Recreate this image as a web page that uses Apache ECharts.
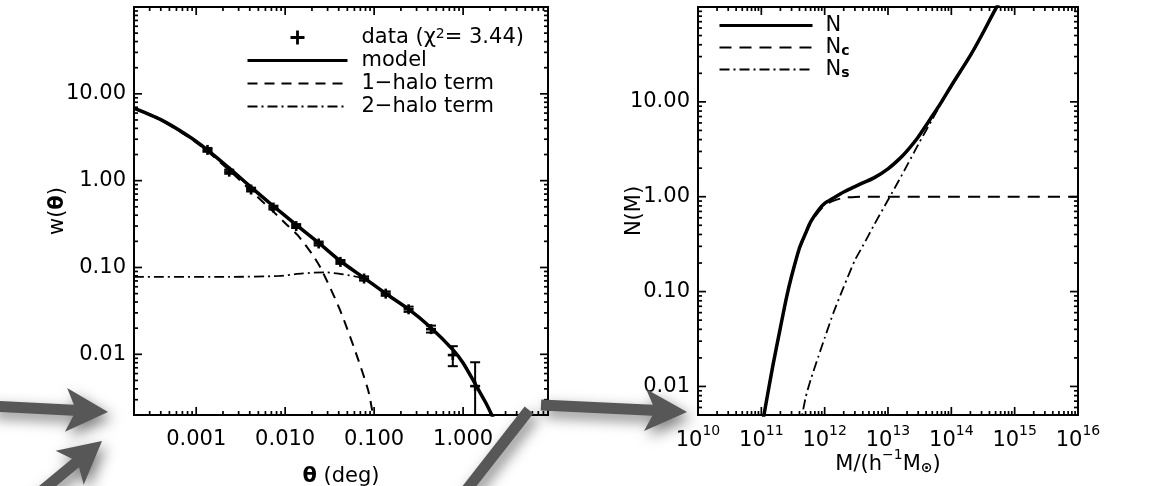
<!DOCTYPE html>
<html>
<head>
<meta charset="utf-8">
<script src="https://cdn.jsdelivr.net/npm/echarts@6/dist/echarts.min.js"></script>
<style>
  html, body { margin: 0; padding: 0; background: #fff; }
  #chart { width: 1171px; height: 486px; }
</style>
</head>
<body>
<div id="chart"></div>
<script>
// ---- left panel: w(theta) ----
var dataTheta = [0.00134, 0.00235, 0.00414, 0.00738, 0.0133, 0.0238, 0.0418, 0.0771, 0.135, 0.244, 0.436, 0.766, 1.365];
var dataW     = [2.26, 1.27, 0.79, 0.49, 0.30, 0.189, 0.116, 0.0746, 0.050, 0.033, 0.0195, 0.0098, 0.0043];
var dataWLow  = [2.15, 1.20, 0.75, 0.465, 0.285, 0.179, 0.110, 0.0705, 0.0472, 0.0308, 0.0178, 0.0073, 0.0005];
var dataWHigh = [2.38, 1.34, 0.83, 0.515, 0.316, 0.199, 0.122, 0.0790, 0.0530, 0.0354, 0.0214, 0.0124, 0.0081];

var modelTheta = [0.0002, 0.0004, 0.0008, 0.0013, 0.0024, 0.0041, 0.0074, 0.013, 0.024, 0.042, 0.077, 0.135, 0.244, 0.42, 0.78, 1.0, 1.36, 1.78, 2.1, 2.5];
var modelW     = [6.84, 5.04, 3.31, 2.31, 1.37, 0.847, 0.507, 0.316, 0.191, 0.118, 0.0759, 0.0501, 0.0331, 0.0209, 0.0111, 0.00794, 0.00461, 0.00282, 0.00200, 0.00135];

var halo1Theta = [0.0002, 0.0004, 0.0008, 0.0013, 0.0024, 0.0041, 0.0074, 0.0105, 0.0139, 0.0205, 0.0255, 0.041, 0.0632, 0.0857, 0.0948, 0.1];
var halo1W     = [6.76, 4.96, 3.23, 2.23, 1.29, 0.768, 0.437, 0.309, 0.234, 0.138, 0.0955, 0.0331, 0.0100, 0.00385, 0.00229, 0.00158];

var halo2Theta = [0.0002, 0.0024, 0.0086, 0.0158, 0.0278, 0.0447, 0.075, 0.135, 0.244, 0.42, 0.78, 1.0, 1.36, 1.78, 2.1, 2.5];
var halo2W     = [0.078, 0.078, 0.080, 0.0855, 0.088, 0.0834, 0.0745, 0.0498, 0.033, 0.0208, 0.0110, 0.0079, 0.0046, 0.0028, 0.0020, 0.00134];

// ---- right panel: N(M) ----
var massGrid = [1.0e11, 1.1e11, 1.5e11, 2e11, 2.5e11, 3e11, 4e11, 5e11, 6e11, 8e11, 1e12, 1.4e12, 2e12, 3e12, 4e12, 6e12, 1e13, 1.5e13, 2e13, 3e13, 5e13, 7e13, 1e14, 2e14, 3e14, 5e14, 7e14, 1e15, 1e16];
var nTotal   = [0.00355, 0.0050, 0.0158, 0.0417, 0.0871, 0.145, 0.288, 0.412, 0.543, 0.724, 0.851, 0.973, 1.12, 1.28, 1.40, 1.58, 1.97, 2.49, 3.05, 4.27, 7.08, 10.0, 14.8, 30.9, 50.1, 95.5, 141, 214, null];
var nCentral = [0.00355, 0.0050, 0.0158, 0.0415, 0.0865, 0.143, 0.283, 0.403, 0.525, 0.69, 0.815, 0.91, 0.975, 0.992, 0.998, 1.0, 1.0, 1.0, 1.0, 1.0, 1.0, 1.0, 1.0, 1.0, 1.0, 1.0, 1.0, 1.0, 1.0];
var nSat     = [null, null, null, null, null, null, 0.00355, 0.0076, 0.0117, 0.0209, 0.0324, 0.0617, 0.112, 0.214, 0.302, 0.501, 0.923, 1.50, 2.14, 3.55, 6.53, 9.77, 14.6, 30.2, 49.0, 94.4, 138, 209, null];

// axis ranges and tick decades
var thetaRange = [0.0002, 9];
var wRange = [0.002, 100];
var massRange = [1e10, 1e16];
var nRange = [0.005, 100];
var thetaDecades = [0.0001, 0.001, 0.01, 0.1, 1];
var wDecades = [0.001, 0.01, 0.1, 1, 10];
var massDecades = [1e10, 1e11, 1e12, 1e13, 1e14, 1e15];
var nDecades = [0.001, 0.01, 0.1, 1, 10];

var FONT = 'DejaVu Sans';
var FS = 21;
var MAJOR = 8, MINOR = 4;

function logTicks(decades, range) {
  var out = [];
  decades.forEach(function (d) {
    for (var k = 1; k <= 9; k++) {
      var v = d * k;
      if (v > range[0] * 1.0001 && v < range[1] * 0.9999) out.push([v, k === 1 ? MAJOR : MINOR]);
    }
  });
  return out;
}

function pairs(xs, ys) {
  return xs.map(function (x, i) { return [x, ys[i]]; });
}

function tickSeries(axisDim, ticks, gridIdx, ref) {
  return {
    type: 'custom', xAxisIndex: gridIdx, yAxisIndex: gridIdx, silent: true, z: 5,
    data: ticks.map(function (t) { return axisDim === 'x' ? [t[0], ref, t[1]] : [ref, t[0], t[1]]; }),
    encode: { x: 0, y: 1 },
    renderItem: function (params, api) {
      var cs = params.coordSys;
      var p = api.coord([api.value(0), api.value(1)]);
      var len = api.value(2);
      var st = { stroke: '#000', lineWidth: 1.7 };
      if (axisDim === 'x') {
        var yb = cs.y + cs.height;
        return { type: 'group', children: [
          { type: 'line', shape: { x1: p[0], y1: yb, x2: p[0], y2: yb - len }, style: st },
          { type: 'line', shape: { x1: p[0], y1: cs.y, x2: p[0], y2: cs.y + len }, style: st }
        ] };
      }
      var xr = cs.x + cs.width;
      return { type: 'group', children: [
        { type: 'line', shape: { x1: cs.x, y1: p[1], x2: cs.x + len, y2: p[1] }, style: st },
        { type: 'line', shape: { x1: xr, y1: p[1], x2: xr - len, y2: p[1] }, style: st }
      ] };
    }
  };
}

function arrowPoly(x0, y0, x1, y1, w, L, H) {
  var dx = x1 - x0, dy = y1 - y0, len = Math.sqrt(dx * dx + dy * dy);
  var ux = dx / len, uy = dy / len, nx = -uy, ny = ux;
  var bx = x1 - ux * L, by = y1 - uy * L;
  var jx = x1 - ux * L * 0.82, jy = y1 - uy * L * 0.82;
  return [
    [x0 + nx * w / 2, y0 + ny * w / 2],
    [jx + nx * w / 2, jy + ny * w / 2],
    [bx + nx * H, by + ny * H],
    [x1, y1],
    [bx - nx * H, by - ny * H],
    [jx - nx * w / 2, jy - ny * w / 2],
    [x0 - nx * w / 2, y0 - ny * w / 2]
  ];
}

var arrowStyle = { fill: '#575757', shadowBlur: 14, shadowColor: 'rgba(0,0,0,0.5)', shadowOffsetX: 4, shadowOffsetY: 6 };

var supRich = {
  b: { fontSize: FS, fontFamily: FONT, color: '#000', padding: [6, 0, 0, 0], verticalAlign: 'bottom' },
  sup: { fontSize: 14, fontFamily: FONT, color: '#000', verticalAlign: 'top' },
  sub: { fontSize: 14, fontFamily: FONT, color: '#000', verticalAlign: 'bottom', fontWeight: 'bold' },
  th: { fontSize: FS, fontFamily: FONT, color: '#000', fontWeight: 'bold' }
};

var chart = echarts.init(document.getElementById('chart'), null, { renderer: 'canvas' });

var axisLabelBase = { color: '#000', fontSize: FS, fontFamily: FONT };
var nameStyle = { fontSize: FS, fontFamily: FONT, color: '#000', rich: supRich };
var noAxisDeco = { axisLine: { show: false }, axisTick: { show: false }, splitLine: { show: false } };

var option = {
  backgroundColor: '#fff',
  animation: false,
  grid: [
    { left: 134, top: 7, width: 414, height: 408, show: true, borderColor: '#000', borderWidth: 2, backgroundColor: 'transparent', outerBoundsMode: 'none', containLabel: false },
    { left: 698, top: 7, width: 380, height: 408, show: true, borderColor: '#000', borderWidth: 2, backgroundColor: 'transparent', outerBoundsMode: 'none', containLabel: false }
  ],
  xAxis: [
    Object.assign({
      type: 'log', gridIndex: 0, min: thetaRange[0], max: thetaRange[1],
      axisLabel: Object.assign({}, axisLabelBase, { margin: 14, showMinLabel: false, showMaxLabel: false,
        formatter: function (v) { return v.toFixed(3); } }),
      name: '{th|θ} (deg)', nameLocation: 'middle', nameGap: 51, nameMoveOverlap: false, nameTextStyle: nameStyle
    }, noAxisDeco),
    Object.assign({
      type: 'log', gridIndex: 1, min: massRange[0], max: massRange[1],
      axisLabel: Object.assign({}, axisLabelBase, { margin: 9, showMinLabel: true, showMaxLabel: true, rich: supRich,
        formatter: function (v) { return '{b|10}{sup|' + Math.round(Math.log10(v)) + '}'; } }),
      name: '{b|M/(h}{sup|−1}{b|M}{sub|⊙}{b|)}', nameLocation: 'middle', nameGap: 33, nameMoveOverlap: false, nameTextStyle: nameStyle
    }, noAxisDeco)
  ],
  yAxis: [
    Object.assign({
      type: 'log', gridIndex: 0, min: wRange[0], max: wRange[1],
      axisLabel: Object.assign({}, axisLabelBase, { margin: 8, showMinLabel: false, showMaxLabel: false,
        formatter: function (v) { return v.toFixed(2); } }),
      name: 'w({th|θ})', nameLocation: 'middle', nameGap: 66, nameMoveOverlap: false, nameTextStyle: nameStyle
    }, noAxisDeco),
    Object.assign({
      type: 'log', gridIndex: 1, min: nRange[0], max: nRange[1],
      axisLabel: Object.assign({}, axisLabelBase, { margin: 8, showMinLabel: false, showMaxLabel: false,
        formatter: function (v) { return v.toFixed(2); } }),
      name: 'N(M)', nameLocation: 'middle', nameGap: 53, nameMoveOverlap: false, nameTextStyle: nameStyle
    }, noAxisDeco)
  ],
  legend: [
    {
      orient: 'vertical', left: 246, top: 27, padding: 0, itemWidth: 100, itemHeight: 14, itemGap: 2,
      selectedMode: false,
      itemStyle: { opacity: 0 },
      data: [
        { name: 'data', icon: 'path://M4,0H6V4H10V6H6V10H4V6H0V4H4Z', itemStyle: { opacity: 1, color: '#000' } },
        { name: 'model', lineStyle: { width: 3 } },
        { name: '1-halo', lineStyle: { width: 2 } },
        { name: '2-halo', lineStyle: { width: 1.8 } }
      ],
      formatter: function (name) {
        return { 'data': 'data (χ{sup|2}= 3.44)', 'model': 'model', '1-halo': '1−halo term', '2-halo': '2−halo term' }[name];
      },
      textStyle: { fontSize: FS, fontFamily: FONT, color: '#000', padding: [0, 0, 0, 9], rich: supRich }
    },
    {
      orient: 'vertical', left: 718, top: 15, padding: 0, itemWidth: 93, itemHeight: 14, itemGap: 1,
      selectedMode: false,
      itemStyle: { opacity: 0 },
      data: [
        { name: 'N', lineStyle: { width: 3 } },
        { name: 'Nc', lineStyle: { width: 2 } },
        { name: 'Ns', lineStyle: { width: 1.8 } }
      ],
      formatter: function (name) {
        return { 'N': 'N', 'Nc': 'N{sub|c}', 'Ns': 'N{sub|s}' }[name];
      },
      textStyle: { fontSize: FS, fontFamily: FONT, color: '#000', padding: [0, 0, 0, 8], rich: supRich }
    }
  ],
  series: [
    {
      name: 'model', type: 'line', xAxisIndex: 0, yAxisIndex: 0, showSymbol: false, symbol: 'none', smooth: 0.25,
      data: pairs(modelTheta, modelW), lineStyle: { color: '#000', width: 3.5 }, itemStyle: { color: '#000' }, z: 3
    },
    {
      name: '1-halo', type: 'line', xAxisIndex: 0, yAxisIndex: 0, showSymbol: false, symbol: 'none', smooth: 0.25,
      data: pairs(halo1Theta, halo1W), lineStyle: { color: '#000', width: 2, type: [10, 7] }, itemStyle: { color: '#000' }, z: 2
    },
    {
      name: '2-halo', type: 'line', xAxisIndex: 0, yAxisIndex: 0, showSymbol: false, symbol: 'none', smooth: 0.25,
      data: pairs(halo2Theta, halo2W), lineStyle: { color: '#000', width: 1.8, type: [10, 4, 2, 4] }, itemStyle: { color: '#000' }, z: 2
    },
    {
      name: 'data', type: 'custom', xAxisIndex: 0, yAxisIndex: 0, clip: true, z: 4,
      itemStyle: { color: '#000' },
      data: dataTheta.map(function (t, i) { return [t, dataW[i], dataWLow[i], dataWHigh[i]]; }),
      encode: { x: 0, y: 1 },
      renderItem: function (params, api) {
        var t = api.value(0);
        var p = api.coord([t, api.value(1)]);
        var lo = api.coord([t, api.value(2)]);
        var hi = api.coord([t, api.value(3)]);
        var st = { stroke: '#000', lineWidth: 2 };
        var st2 = { stroke: '#000', lineWidth: 2.6 };
        return { type: 'group', children: [
          { type: 'line', shape: { x1: p[0], y1: lo[1], x2: p[0], y2: hi[1] }, style: st },
          { type: 'line', shape: { x1: p[0] - 5, y1: lo[1], x2: p[0] + 5, y2: lo[1] }, style: st },
          { type: 'line', shape: { x1: p[0] - 5, y1: hi[1], x2: p[0] + 5, y2: hi[1] }, style: st },
          { type: 'line', shape: { x1: p[0] - 5, y1: p[1], x2: p[0] + 5, y2: p[1] }, style: st2 },
          { type: 'line', shape: { x1: p[0], y1: p[1] - 5, x2: p[0], y2: p[1] + 5 }, style: st2 }
        ] };
      }
    },
    {
      name: 'N', type: 'line', xAxisIndex: 1, yAxisIndex: 1, showSymbol: false, symbol: 'none', smooth: 0.25,
      data: pairs(massGrid, nTotal), lineStyle: { color: '#000', width: 3.5 }, itemStyle: { color: '#000' }, z: 3
    },
    {
      name: 'Nc', type: 'line', xAxisIndex: 1, yAxisIndex: 1, showSymbol: false, symbol: 'none', smooth: 0.25,
      data: pairs(massGrid, nCentral), lineStyle: { color: '#000', width: 2, type: [12, 8] }, itemStyle: { color: '#000' }, z: 2
    },
    {
      name: 'Ns', type: 'line', xAxisIndex: 1, yAxisIndex: 1, showSymbol: false, symbol: 'none', smooth: 0.25,
      data: pairs(massGrid, nSat), lineStyle: { color: '#000', width: 1.8, type: [10, 4, 2, 4] }, itemStyle: { color: '#000' }, z: 2
    },
    tickSeries('x', logTicks(thetaDecades, thetaRange), 0, 1),
    tickSeries('y', logTicks(wDecades, wRange), 0, 0.01),
    tickSeries('x', logTicks(massDecades, massRange), 1, 1),
    tickSeries('y', logTicks(nDecades, nRange), 1, 1e12)
  ],
  graphic: [
    { type: 'polygon', z: 100, shape: { points: arrowPoly(-10, 406, 108, 412, 11, 42, 22) }, style: arrowStyle },
    { type: 'polygon', z: 100, shape: { points: arrowPoly(26, 504, 102, 441, 11, 42, 22) }, style: arrowStyle },
    { type: 'polygon', z: 100, shape: { points: arrowPoly(541, 405, 687, 412, 11, 42, 21) }, style: arrowStyle },
    { type: 'line', z: 100, shape: { x1: 461, y1: 497, x2: 529, y2: 410 }, style: { stroke: '#575757', lineWidth: 11, shadowBlur: 14, shadowColor: 'rgba(0,0,0,0.5)', shadowOffsetX: 4, shadowOffsetY: 6 } }
  ]
};

chart.setOption(option);
</script>
</body>
</html>
